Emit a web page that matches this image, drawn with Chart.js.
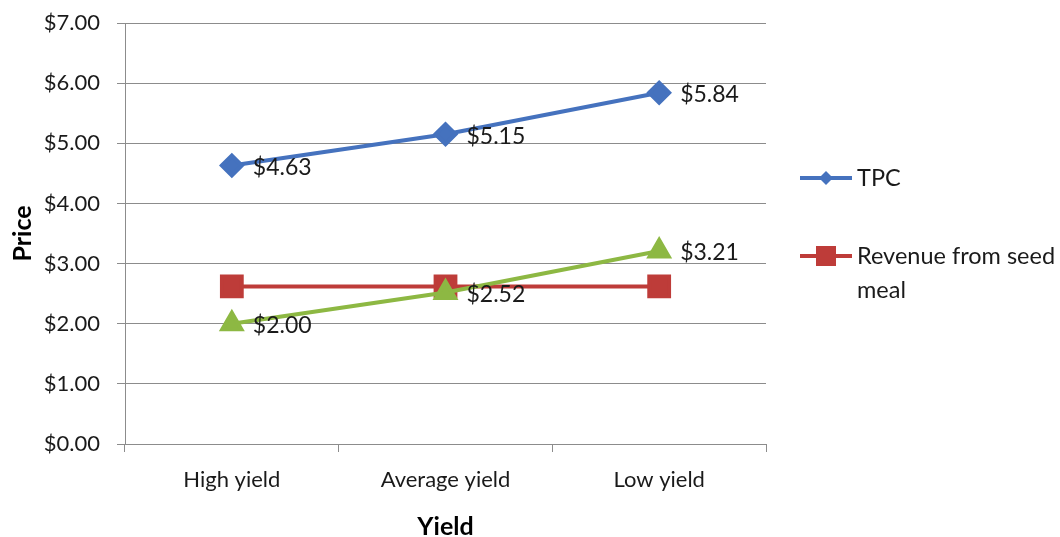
<!DOCTYPE html>
<html><head><meta charset="utf-8">
<script src="https://cdn.jsdelivr.net/npm/chart.js@4.4.0/dist/chart.umd.min.js"></script>
<style>html,body{margin:0;padding:0;background:#fff}#wrap{width:1060px;height:537px}</style>
</head><body><div id="wrap"><canvas id="c" width="1060" height="537"></canvas></div>
<script>
const categories = ["High yield", "Average yield", "Low yield"];
const tpcValues = [4.63, 5.15, 5.84];
const revenueValues = [2.62, 2.62, 2.62];
const thirdValues = [2.00, 2.52, 3.21];
const seriesNames = ["TPC", "Revenue from seed meal", ""];
const yTickMin = 0, yTickMax = 7, yTickStep = 1;

const FONT = "Lato, 'Open Sans', sans-serif";
const fmt = v => "$" + v.toFixed(2);

const dataLabels = {
  id: "dataLabels",
  afterDatasetsDraw(chart) {
    const ctx = chart.ctx;
    ctx.save();
    ctx.font = "23px " + FONT;
    ctx.fillStyle = "#1a1a1a";
    ctx.textAlign = "left";
    ctx.textBaseline = "middle";
    chart.data.datasets.forEach((ds, i) => {
      if (!ds.showLabels) return;
      chart.getDatasetMeta(i).data.forEach((pt, j) => {
        ctx.fillText(fmt(ds.data[j]), pt.x + 21, pt.y + 2);
      });
    });
    ctx.restore();
  }
};

const customLegend = {
  id: "customLegend",
  afterDraw(chart) {
    const ctx = chart.ctx;
    ctx.save();
    ctx.font = "23.5px " + FONT;
    ctx.textAlign = "left";
    ctx.textBaseline = "middle";
    const items = [
      {ds: 0, y: 178, lines: ["TPC"]},
      {ds: 1, y: 256, lines: ["Revenue from seed", "meal"]}
    ];
    items.forEach(it => {
      const ds = chart.data.datasets[it.ds];
      ctx.strokeStyle = ds.borderColor;
      ctx.lineWidth = 4;
      ctx.beginPath(); ctx.moveTo(800, it.y); ctx.lineTo(852, it.y); ctx.stroke();
      ctx.fillStyle = ds.pointBackgroundColor;
      ctx.beginPath();
      if (ds.pointStyle === "rectRot") {
        const r = 7;
        ctx.moveTo(826, it.y - r); ctx.lineTo(826 + r, it.y); ctx.lineTo(826, it.y + r); ctx.lineTo(826 - r, it.y); ctx.closePath();
      } else {
        ctx.rect(826 - 10, it.y - 10, 20, 20);
      }
      ctx.fill();
      ctx.fillStyle = "#1a1a1a";
      it.lines.forEach((t, k) => ctx.fillText(t, 857, it.y + k * 34));
    });
    ctx.restore();
  }
};

new Chart(document.getElementById("c"), {
  type: "line",
  data: {
    labels: categories,
    datasets: [
      {label: seriesNames[0], data: tpcValues, borderColor: "#4572BE", backgroundColor: "#4572BE",
       pointBackgroundColor: "#4572BE", pointBorderColor: "#4572BE", pointStyle: "rectRot",
       pointRadius: 10, borderWidth: 4, showLabels: true, order: 1},
      {label: seriesNames[1], data: revenueValues, borderColor: "#BE3C39", backgroundColor: "#BE3C39",
       pointBackgroundColor: "#BE3C39", pointBorderColor: "#BE3C39", pointStyle: "rect",
       pointRadius: 14, borderWidth: 4, showLabels: false, order: 2},
      {label: seriesNames[2], data: thirdValues, borderColor: "#8DB843", backgroundColor: "#8DB843",
       pointBackgroundColor: "#8DB843", pointBorderColor: "#8DB843", pointStyle: "triangle",
       pointRadius: 11, borderWidth: 4, showLabels: true, order: 0}
    ]
  },
  options: {
    responsive: false,
    animation: false,
    devicePixelRatio: 1,
    layout: {padding: {top: 23, right: 294, left: 0, bottom: 0}},
    plugins: {legend: {display: false}, tooltip: {enabled: false}},
    scales: {
      x: {
        offset: true,
        grid: {offset: true, drawOnChartArea: false, drawTicks: true, tickLength: 8, color: "#8c8c8c"},
        border: {display: true, color: "#8c8c8c", width: 1},
        ticks: {font: {family: FONT, size: 22}, color: "#1a1a1a", padding: 15},
        title: {display: true, text: "Yield", font: {family: FONT, size: 25, weight: "bold"}, color: "#000", padding: {top: 14, bottom: -5}},
        afterFit: s => { s.height = 93; s.paddingLeft = 0; s.paddingRight = 0; }
      },
      y: {
        min: yTickMin, max: yTickMax,
        grid: {color: "#8c8c8c", tickLength: 8, drawTicks: true},
        border: {display: true, color: "#8c8c8c", width: 1},
        ticks: {stepSize: yTickStep, font: {family: FONT, size: 22}, color: "#1a1a1a", padding: 17,
                callback: v => fmt(v)},
        title: {display: true, text: "Price", font: {family: FONT, size: 25, weight: "bold"}, color: "#000", padding: {top: 8}},
        afterFit: s => { s.width = 125; s.paddingTop = 0; s.paddingBottom = 0; }
      }
    }
  },
  plugins: [dataLabels, customLegend]
});
</script></body></html>
